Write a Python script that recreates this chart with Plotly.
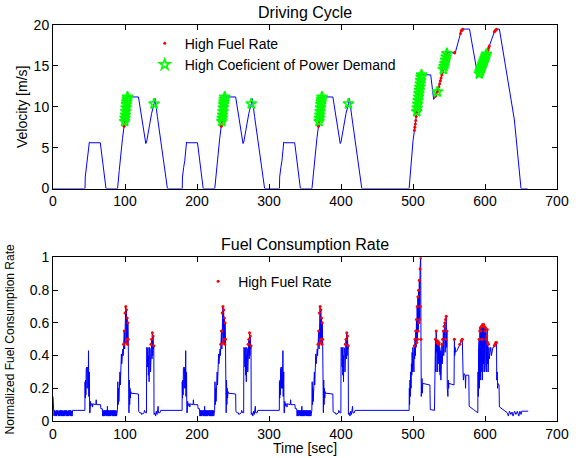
import numpy as np
import plotly.graph_objects as go

# ---------------- data ----------------
# urban cycle velocity profile, (time relative to cycle start [s], velocity [m/s])
urban_vel = [(0, 0), (0.3, 1.4), (2, 2.6), (3.5, 3.4), (6, 5.7), (7, 5.6), (21.2, 5.6), (29.1, 0),
             (45.2, 0), (47.5, 2.2), (49.8, 4.7), (52, 6.1), (54.4, 7.75), (56, 9.0), (57.5, 10.3),
             (59, 11.2), (74.2, 11.2), (84.4, 5.5), (85.5, 5.7), (89, 7.5), (92.5, 9.2), (96, 10.4),
             (97.3, 11.0), (100.5, 8.8), (107.4, 4.7), (114.4, 0)]
cycle_starts = [44.5, 179.5, 314.5]
# extra-urban part, absolute time
eudc_vel = [(494.6, 0), (497.8, 3.5), (500.1, 5.9), (503.3, 7.95), (507, 10.8), (511.6, 13.9),
            (524.6, 13.9), (528.7, 10.9), (530, 11.1), (534.7, 12.0), (544, 15.3), (547.2, 16.6),
            (558.7, 16.6), (567, 19.3), (569.3, 19.5), (578.5, 19.5), (590, 13.75), (591.4, 13.9),
            (603.9, 16.9), (613.1, 19.2), (616.3, 19.5), (620, 19.5), (640.8, 8.4), (650, 0), (659, 0)]

# normalized fuel rate, initial idle (absolute time)
start_fuel = [(0.0, 0.15), (0.4, 0.03), (0.8, 0.065), (1.4, 0.03), (2.0, 0.065), (2.6, 0.035),
              (3.2, 0.06), (3.8, 0.03), (4.4, 0.065), (5.0, 0.03), (5.6, 0.065), (6.2, 0.04),
              (6.8, 0.065), (7.4, 0.03), (8.0, 0.06), (8.6, 0.03), (9.2, 0.065), (9.8, 0.03),
              (10.4, 0.065), (11.0, 0.035), (11.6, 0.065), (12.2, 0.03), (12.8, 0.065), (13.4, 0.03),
              (14.0, 0.06), (14.6, 0.03), (15.2, 0.065), (15.8, 0.03), (16.4, 0.065), (17.0, 0.04),
              (17.6, 0.065), (18.2, 0.03), (18.8, 0.065), (19.4, 0.03), (20.0, 0.06), (20.6, 0.03),
              (21.2, 0.065), (21.8, 0.03), (22.4, 0.065), (23.0, 0.035), (23.6, 0.065), (24.2, 0.03),
              (24.8, 0.065), (25.4, 0.03), (26.0, 0.06), (26.6, 0.03), (27.2, 0.065), (27.4, 0.065)]
# fuel rate during one urban cycle (time relative to cycle start)
urban_fuel = [(-0.2, 0.065), (0.0, 0.24), (0.4, 0.14), (0.8, 0.25), (1.2, 0.16), (1.6, 0.32),
              (2.0, 0.22), (2.4, 0.33), (2.8, 0.2), (3.2, 0.32), (3.6, 0.25), (4.0, 0.33),
              (4.4, 0.2), (4.8, 0.43), (5.2, 0.15), (5.6, 0.42), (6.0, 0.3), (6.4, 0.05),
              (7.0, 0.05), (7.5, 0.12), (8.0, 0.09), (8.5, 0.105), (10.0, 0.105), (10.5, 0.085),
              (11.0, 0.105), (15.0, 0.1), (15.5, 0.13), (16.0, 0.1), (21.5, 0.1), (22.0, 0.075),
              (24.0, 0.075), (24.5, 0.03), (25.1, 0.065), (25.7, 0.03), (26.3, 0.065), (26.9, 0.03),
              (27.5, 0.065), (28.1, 0.035), (28.7, 0.065), (29.3, 0.03), (29.9, 0.065), (30.5, 0.03),
              (31.1, 0.09), (31.7, 0.03), (32.3, 0.065), (32.9, 0.03), (33.5, 0.065), (34.1, 0.03),
              (34.7, 0.065), (35.3, 0.03), (35.9, 0.065), (36.5, 0.035), (37.1, 0.065), (37.7, 0.03),
              (38.3, 0.065), (38.9, 0.03), (39.5, 0.065), (40.1, 0.03), (40.7, 0.065), (41.3, 0.03),
              (41.9, 0.065), (42.5, 0.03), (43.1, 0.065), (43.7, 0.03), (44.3, 0.065), (45.0, 0.065),
              (45.5, 0.24), (46.0, 0.1), (46.5, 0.2), (47.0, 0.12), (47.5, 0.27), (48.0, 0.15),
              (48.5, 0.3), (49.0, 0.22), (49.5, 0.38), (50.0, 0.3), (50.5, 0.41), (51.0, 0.35),
              (51.5, 0.43), (52.0, 0.38), (52.5, 0.44), (53.0, 0.4), (53.5, 0.47), (54.0, 0.42),
              (54.5, 0.55), (55.0, 0.44), (55.5, 0.66), (56.0, 0.45), (56.5, 0.7), (57.0, 0.48),
              (57.5, 0.68), (58.0, 0.5), (58.5, 0.63), (59.0, 0.47), (59.5, 0.6), (60.0, 0.5),
              (60.4, 0.05), (61.0, 0.05), (61.5, 0.25), (62.0, 0.1), (62.5, 0.2), (63.0, 0.14),
              (63.5, 0.18), (64.0, 0.17), (74.2, 0.165), (74.5, 0.06), (76.0, 0.05), (78.0, 0.05),
              (78.5, 0.04), (80.0, 0.045), (82.0, 0.05), (82.5, 0.065), (84.0, 0.05), (85.3, 0.05),
              (85.6, 0.45), (86.0, 0.3), (86.5, 0.44), (87.0, 0.33), (87.5, 0.45), (88.0, 0.28),
              (88.5, 0.4), (89.0, 0.24), (89.5, 0.45), (90.0, 0.35), (90.5, 0.44), (91.0, 0.3),
              (91.5, 0.47), (92.0, 0.35), (92.5, 0.5), (93.0, 0.38), (93.5, 0.54), (94.0, 0.4),
              (94.5, 0.52), (95.0, 0.44), (95.5, 0.46), (95.8, 0.04), (97.0, 0.05), (98.0, 0.03),
              (99.0, 0.06), (100.0, 0.04), (100.5, 0.09), (101.5, 0.09), (102.0, 0.05),
              (104.0, 0.05), (105.0, 0.065)]
# fuel rate during the extra-urban part (absolute time)
eudc_fuel = [(494.6, 0.065), (494.9, 0.2), (495.3, 0.1), (495.8, 0.25), (496.3, 0.15), (496.8, 0.3),
             (497.3, 0.2), (497.8, 0.35), (498.3, 0.28), (498.8, 0.42), (499.3, 0.3), (499.8, 0.45),
             (500.3, 0.35), (500.8, 0.41), (501.3, 0.3), (501.8, 0.46), (502.3, 0.38), (502.8, 0.5),
             (503.3, 0.4), (503.8, 0.55), (504.3, 0.45), (504.8, 0.62), (505.3, 0.48), (505.8, 0.7),
             (506.3, 0.5), (506.8, 0.76), (507.3, 0.55), (507.8, 0.8), (508.3, 0.6), (508.8, 0.86),
             (509.3, 0.62), (509.8, 0.93), (510.3, 0.7), (510.7, 1.0), (511.1, 0.5), (511.5, 0.15),
             (512.0, 0.2), (512.5, 0.26), (513.0, 0.17), (513.5, 0.23), (523.5, 0.22), (524.0, 0.07),
             (529.8, 0.065), (530.2, 0.35), (530.7, 0.25), (531.2, 0.5), (531.7, 0.3), (532.2, 0.55),
             (532.7, 0.42), (533.2, 0.48), (533.7, 0.3), (534.2, 0.49), (534.7, 0.42), (535.2, 0.47),
             (535.7, 0.35), (536.2, 0.48), (536.7, 0.3), (537.2, 0.45), (537.7, 0.28), (538.2, 0.43),
             (538.7, 0.25), (539.2, 0.45), (539.7, 0.4), (540.2, 0.47), (540.7, 0.35), (541.2, 0.5),
             (541.7, 0.38), (542.2, 0.55), (542.7, 0.4), (543.2, 0.58), (543.7, 0.45), (544.2, 0.6),
             (544.7, 0.42), (545.2, 0.62), (545.7, 0.5), (546.2, 0.64), (546.7, 0.45), (547.2, 0.55),
             (547.6, 0.2), (548.5, 0.15), (549.0, 0.25), (549.5, 0.2), (550.0, 0.23), (557.0, 0.22),
             (557.5, 0.5), (558.0, 0.4), (558.5, 0.45), (559.0, 0.42), (561.0, 0.43), (563.0, 0.45),
             (565.0, 0.47), (567.0, 0.49), (568.5, 0.5), (569.5, 0.3), (570.0, 0.25), (571.0, 0.29),
             (572.5, 0.28), (573.0, 0.2), (573.5, 0.28), (577.5, 0.28), (578.0, 0.09), (584.0, 0.07),
             (590.0, 0.05), (590.3, 0.3), (590.7, 0.15), (591.1, 0.45), (591.5, 0.25), (591.9, 0.5),
             (592.3, 0.2), (592.7, 0.55), (593.1, 0.3), (593.5, 0.57), (593.9, 0.25), (594.3, 0.55),
             (594.7, 0.3), (595.1, 0.58), (595.5, 0.35), (595.9, 0.5), (596.3, 0.25), (596.7, 0.59),
             (597.1, 0.3), (597.5, 0.58), (597.9, 0.35), (598.3, 0.59), (598.7, 0.4), (599.1, 0.58),
             (599.5, 0.3), (599.9, 0.55), (600.3, 0.35), (600.7, 0.57), (601.1, 0.38), (601.5, 0.5),
             (601.9, 0.3), (602.3, 0.52), (602.7, 0.4), (603.1, 0.56), (603.5, 0.35), (603.9, 0.48),
             (604.3, 0.3), (604.7, 0.47), (605.1, 0.4), (605.5, 0.45), (606.0, 0.38), (607.0, 0.42),
             (608.0, 0.45), (609.0, 0.4), (610.0, 0.44), (611.0, 0.45), (612.0, 0.45), (613.0, 0.46),
             (614.0, 0.47), (615.0, 0.48), (616.0, 0.48), (616.3, 0.25), (617.0, 0.3), (617.5, 0.2),
             (618.0, 0.23), (619.5, 0.22), (620.0, 0.086), (625.0, 0.07), (631.0, 0.05), (632.5, 0.03),
             (634.0, 0.06), (636.0, 0.04), (637.5, 0.055), (639.0, 0.03), (641.0, 0.06), (643.0, 0.04),
             (645.0, 0.06), (647.0, 0.03), (648.5, 0.06), (650.0, 0.04), (651.0, 0.06), (660.0, 0.06)]

high_fuel_threshold = 0.46
# high-fuel-rate instants marked on the driving cycle (as seen in the upper panel)
urban_red_r = [54.2, 54.5, 55.0, 56.0, 57.0, 58.0]
eudc_red_t = [502.0, 502.6, 503.2, 503.8, 504.4, 505.0, 506.0, 507.0, 508.0, 509.0, 510.0, 511.0,
              531, 532, 533, 534, 535, 536, 537, 538, 539, 540, 541, 542, 543, 544, 545, 546, 547,
              557.5, 558, 566, 567, 568, 569, 594, 595, 596, 597, 598, 599, 600, 601, 602, 603,
              604, 605, 606, 613, 614, 615, 616]
# times of high coefficient of power demand
urban_star_r = [55.0, 55.5, 56.0, 56.5, 57.0, 57.5, 58.0, 58.5, 59.0, 95.9]
eudc_star_t = [505.2, 505.8, 506.4, 507.0, 507.6, 508.2, 508.8, 509.4, 510.0, 510.6, 511.2, 511.8,
               533.8, 542, 543, 544, 545, 546, 547, 592, 593, 594, 595, 596,
               597, 598, 599, 600, 601, 602]

# ---------------- build series ----------------
vel_t, vel_v = [0.0], [0.0]
for s in cycle_starts:
    for r, v in urban_vel:
        vel_t.append(s + r); vel_v.append(v)
for t, v in eudc_vel:
    vel_t.append(t); vel_v.append(v)
vel_t = np.array(vel_t); vel_v = np.array(vel_v)

fuel_t = [t for t, f in start_fuel]
fuel_f = [f for t, f in start_fuel]
for s in cycle_starts:
    for r, f in urban_fuel:
        fuel_t.append(s + r); fuel_f.append(f)
for t, f in eudc_fuel:
    fuel_t.append(t); fuel_f.append(f)
fuel_t = np.array(fuel_t); fuel_f = np.array(fuel_f)

mask = fuel_f >= high_fuel_threshold
red_t = fuel_t[mask]; red_f = fuel_f[mask]

top_red_t = np.array([s + r for s in cycle_starts for r in urban_red_r] + eudc_red_t)
top_red_v = np.interp(top_red_t, vel_t, vel_v)

star_t = np.array([s + r for s in cycle_starts for r in urban_star_r] + eudc_star_t)
star_v = np.interp(star_t, vel_t, vel_v)

# ---------------- figure ----------------
BLUE = "#0000ff"
fig = go.Figure()
fig.add_trace(go.Scatter(x=vel_t, y=vel_v, mode="lines", line=dict(color=BLUE, width=1),
                         showlegend=False, xaxis="x", yaxis="y", hoverinfo="skip"))
fig.add_trace(go.Scatter(x=top_red_t, y=top_red_v, mode="markers", name="High Fuel Rate",
                         marker=dict(color="red", size=3), xaxis="x", yaxis="y", legend="legend"))
fig.add_trace(go.Scatter(x=star_t, y=star_v, mode="markers", name="High Coeficient of Power Demand",
                         marker=dict(color="#00ff00", size=8, symbol="star-open",
                                     line=dict(width=1.6, color="#00ff00")),
                         xaxis="x", yaxis="y", legend="legend"))
fig.add_trace(go.Scatter(x=fuel_t, y=fuel_f, mode="lines", line=dict(color=BLUE, width=1),
                         showlegend=False, xaxis="x2", yaxis="y2", hoverinfo="skip"))
fig.add_trace(go.Scatter(x=red_t, y=red_f, mode="markers", name="High Fuel Rate",
                         marker=dict(color="red", size=3), xaxis="x2", yaxis="y2", legend="legend2"))

FONT = "Liberation Sans, Arial, Helvetica, sans-serif"
ax = dict(showline=True, linecolor="black", linewidth=1, mirror="ticks", ticks="inside",
          ticklen=5, tickcolor="black", showgrid=False, zeroline=False,
          tickfont=dict(size=14, color="black", family=FONT))
top_dom = [0.587, 1.0]
bot_dom = [0.0, 0.413]
fig.update_layout(
    width=581, height=458,
    margin=dict(l=53, r=21, t=25, b=37),
    plot_bgcolor="white", paper_bgcolor="white",
    font=dict(family=FONT, size=14, color="black"),
    xaxis=dict(ax, domain=[0, 1], anchor="y", range=[0, 700], dtick=100),
    yaxis=dict(ax, domain=top_dom, anchor="x", range=[0, 20], dtick=5),
    xaxis2=dict(ax, domain=[0, 1], anchor="y2", range=[0, 700], dtick=100),
    yaxis2=dict(ax, domain=bot_dom, anchor="x2", range=[0, 1], dtick=0.2),
    legend=dict(x=0.182, y=0.993, xanchor="left", yanchor="top", bgcolor="rgba(0,0,0,0)",
                font=dict(size=14, family=FONT), tracegroupgap=0),
    legend2=dict(x=0.288, y=0.392, xanchor="left", yanchor="top", bgcolor="rgba(0,0,0,0)",
                 font=dict(size=14, family=FONT)),
    annotations=[
        dict(text="Driving Cycle", x=0.5, y=1.0, xref="paper", yref="paper", yshift=2,
             xanchor="center", yanchor="bottom", showarrow=False, font=dict(size=16)),
        dict(text="Fuel Consumption Rate", x=0.5, y=bot_dom[1], xref="paper", yref="paper",
             yshift=2, xanchor="center", yanchor="bottom", showarrow=False, font=dict(size=16)),
        dict(text="Velocity [m/s]", x=-0.061, y=sum(top_dom) / 2, xref="paper", yref="paper",
             textangle=-90, xanchor="center", yanchor="middle", showarrow=False,
             font=dict(size=14)),
        dict(text="Normalized Fuel Consumption Rate", x=-0.085, y=sum(bot_dom) / 2,
             xref="paper", yref="paper", textangle=-90, xanchor="center", yanchor="middle",
             showarrow=False, font=dict(size=12)),
        dict(text="Time [sec]", x=0.5, y=0, xref="paper", yref="paper", yshift=-27,
             xanchor="center", yanchor="middle", showarrow=False, font=dict(size=14)),
    ],
)
fig.write_html("out.html")
